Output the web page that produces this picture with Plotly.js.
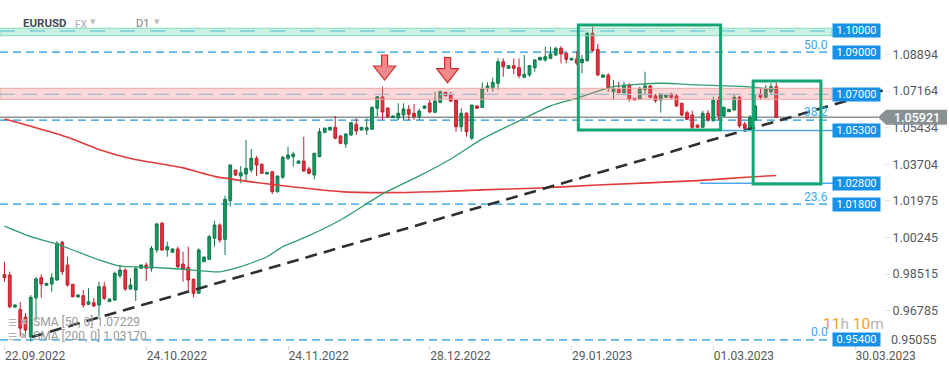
<!DOCTYPE html>
<html>
<head>
<meta charset="utf-8">
<script src="https://cdn.plot.ly/plotly-3.0.1.min.js"></script>
<style>html,body{margin:0;padding:0;background:#fff;}#chart{width:949px;height:370px;}</style>
</head>
<body>
<div id="chart"></div>
<script>
// ---- Candle data (EURUSD D1, bar index 0 = 22.09.2022) ----
const openP = [0.98492,0.98468,0.96956,0.96833,0.96483,0.95537,0.97385,0.98341,0.97981,0.98043,
0.98232,1.00014,0.98941,0.98029,0.97428,0.97490,0.97084,0.97160,0.97050,0.97915,
0.97207,0.97286,0.98435,0.98704,0.97806,0.97759,0.98785,0.98941,0.98785,0.99650,
1.00912,0.99650,0.99541,0.99697,0.98988,0.98832,0.98265,0.97603,0.99097,0.99210,
1.00203,1.00831,1.00155,1.01980,1.03431,1.03147,1.03242,1.03431,1.03984,1.03700,
1.03242,1.03350,1.02405,1.03086,1.03984,1.04060,1.03747,1.03856,1.03478,1.03194,
1.04060,1.05213,1.05321,1.05449,1.05038,1.04660,1.05085,1.05591,1.05321,1.05321,
1.05354,1.06347,1.06881,1.06361,1.05903,1.05889,1.06030,1.06300,1.06111,1.05950,
1.06347,1.06597,1.06158,1.06630,1.07103,1.06975,1.06739,1.05477,1.06111,1.04929,
1.06456,1.06385,1.07292,1.07292,1.07529,1.08549,1.08237,1.08360,1.08266,1.07812,
1.07921,1.08266,1.08630,1.08630,1.08710,1.08866,1.09182,1.08946,1.08630,1.08680,
1.08502,1.08597,1.09891,1.09135,1.07812,1.07921,1.07131,1.07245,1.07084,1.07448,
1.06819,1.06772,1.07245,1.07401,1.06928,1.06739,1.06867,1.07023,1.06928,1.06583,
1.06140,1.06030,1.05557,1.05449,1.06111,1.05761,1.06720,1.05983,1.06186,1.06266,
1.06867,1.05604,1.05321,1.05794,1.07023,1.06867,1.07131,1.07368];
const highP = [0.99106,0.98624,0.97097,0.97192,0.96672,0.97523,0.98374,0.98501,0.98090,0.98548,
1.00075,1.00075,0.99332,0.98043,0.97546,0.97759,0.97839,0.97381,0.98152,0.98152,
0.97357,0.98624,0.98941,0.98785,0.98326,0.98861,0.98964,0.99059,0.99839,1.00941,
1.00988,1.00042,0.99730,0.99806,0.99570,0.99806,0.98312,0.99730,0.99367,1.00359,
1.01034,1.00912,1.02216,1.03700,1.03431,1.03620,1.04849,1.04423,1.04092,1.03747,
1.03336,1.03383,1.03160,1.04092,1.04533,1.04296,1.03880,1.05004,1.03587,1.04240,
1.05402,1.05449,1.05463,1.05983,1.05085,1.05165,1.05700,1.05874,1.05463,1.05874,
1.06423,1.06928,1.07368,1.06395,1.06007,1.06583,1.06583,1.06503,1.06550,1.06337,
1.06480,1.06739,1.07131,1.07178,1.07131,1.07131,1.06772,1.06347,1.06158,1.06520,
1.06480,1.07576,1.07576,1.07793,1.08710,1.08710,1.08370,1.08710,1.08710,1.08866,
1.08393,1.08663,1.08771,1.09258,1.09258,1.09258,1.09291,1.09022,1.08724,1.09050,
1.08866,1.09967,1.10203,1.09386,1.07945,1.08001,1.07684,1.07604,1.07604,1.07529,
1.06833,1.07368,1.08077,1.07448,1.07023,1.07040,1.06990,1.07084,1.07023,1.06611,
1.06234,1.06234,1.05572,1.06234,1.06266,1.06895,1.06900,1.06423,1.06314,1.06975,
1.06928,1.05713,1.06030,1.07023,1.07292,1.07448,1.07529,1.07557];
const lowP = [0.98152,0.96893,0.96908,0.95561,0.95490,0.95318,0.96341,0.97395,0.97948,0.97678,
0.98185,0.98468,0.97915,0.97414,0.97404,0.96924,0.97050,0.96956,0.96497,0.97286,
0.97192,0.97239,0.98312,0.97712,0.97759,0.97239,0.98775,0.98185,0.98624,0.99522,
0.99603,0.99332,0.99508,0.98785,0.98152,0.97759,0.97414,0.97570,0.99083,0.99177,
0.99806,0.99995,0.99413,1.01696,1.03147,1.02802,1.02925,1.03303,1.03147,1.03242,
1.03218,1.02296,1.02358,1.03019,1.03903,1.03587,1.03738,1.03350,1.03228,1.02991,
1.04031,1.05165,1.05297,1.04882,1.04645,1.04485,1.05038,1.05085,1.05297,1.05085,
1.05321,1.05950,1.05794,1.05889,1.05889,1.05794,1.05794,1.05794,1.05794,1.05794,
1.06337,1.06111,1.06111,1.06583,1.06904,1.06630,1.05241,1.05241,1.05004,1.04849,
1.06337,1.06361,1.07131,1.07131,1.07212,1.07840,1.08228,1.07954,1.07765,1.07765,
1.07840,1.08077,1.08606,1.08549,1.08663,1.08818,1.08474,1.08474,1.08606,1.08380,
1.07999,1.08549,1.09022,1.07873,1.07803,1.07131,1.06739,1.07070,1.07023,1.06659,
1.06715,1.06739,1.07023,1.06819,1.06611,1.06140,1.06857,1.06772,1.06423,1.05983,
1.05794,1.05354,1.05439,1.05402,1.05713,1.05713,1.05780,1.05936,1.06172,1.06234,
1.05402,1.05321,1.05274,1.05770,1.06739,1.06819,1.07023,1.05900];
const closeP = [0.98341,0.96968,0.97050,0.95952,0.95868,0.97413,0.98279,0.98043,0.98076,0.98341,
0.99967,0.98624,0.97995,0.97442,0.97523,0.97050,0.97207,0.97003,0.97915,0.97367,
0.97334,0.98548,0.98704,0.97806,0.97995,0.98766,0.98941,0.98785,0.99730,1.00879,
0.99650,0.99806,0.99697,0.98861,0.98737,0.98232,0.97603,0.99650,0.99305,1.00279,
1.00831,1.00122,1.02046,1.03667,1.03194,1.03303,1.03511,1.03984,1.03667,1.03275,
1.03322,1.02405,1.03147,1.04031,1.04140,1.04187,1.03856,1.03383,1.03275,1.04220,
1.05241,1.05402,1.05449,1.04929,1.04693,1.05132,1.05666,1.05274,1.05449,1.05430,
1.06395,1.06895,1.06172,1.05950,1.05983,1.06111,1.06314,1.06063,1.05950,1.06219,
1.06456,1.06172,1.06692,1.07131,1.06942,1.06692,1.05477,1.06111,1.05241,1.06503,
1.06347,1.07292,1.07401,1.07576,1.08549,1.08313,1.08360,1.08237,1.07888,1.07954,
1.08360,1.08630,1.08757,1.08785,1.08913,1.09182,1.08913,1.08663,1.08710,1.08480,
1.08663,1.09891,1.09069,1.07921,1.07921,1.07292,1.07292,1.07084,1.07448,1.06772,
1.06739,1.07292,1.07401,1.06867,1.06706,1.07023,1.06975,1.06867,1.06456,1.06030,
1.05827,1.05449,1.05449,1.06111,1.05794,1.06739,1.06000,1.06395,1.06300,1.06867,
1.05510,1.05402,1.05921,1.06456,1.06867,1.07292,1.07368,1.05921];

// ---- Moving averages ----
const sma50Idx = [0,5,10,13,18,22,28,34,41,45,50,53,57,64,72,79,85,91,98,104,109,116,125,132,141,147];
const sma50Val = [1.0078,1.0028,0.9993,0.9965,0.9918,0.9889,0.9883,0.9874,0.9862,0.9886,0.9933,0.9981,1.0022,1.0107,1.0230,1.0315,1.0395,1.0490,1.0575,1.0646,1.0682,1.0737,1.0753,1.0745,1.0737,1.0723];
const sma200Idx = [0,5,12,18,24,34,40,47,56,64,72,82,91,101,113,132,142,147];
const sma200Val = [1.0584,1.0550,1.0498,1.0440,1.0397,1.0353,1.0313,1.0287,1.0260,1.0241,1.0236,1.0240,1.0249,1.0257,1.0272,1.0293,1.0310,1.0317];

// ---- Drawings ----
const trendIdx = [5.18, 168.04];
const trendPrice = [0.95539, 1.07245];
const fibLevels = ['0.0','23.6','38.2','50.0'];
const fibPrices = [0.9540, 1.0182, 1.0579, 1.0900];
const boxPrices = [1.10000, 1.09000, 1.07000, 1.05300, 1.02800, 1.01800, 0.95400];
const boxTexts = ['1.10000','1.09000','1.07000','1.05300','1.02800','1.01800','0.95400'];
const greenZone = [1.09778, 1.10128];
const redZone = [1.06772, 1.07292];
const supportLines = [1.05300, 1.02800];
const rectIdx = [[109.3, 136.4], [142.6, 155.5]];
const rectPrice = [[1.05321, 1.10284], [1.02769, 1.07637]];
const arrowIdx = [72.4, 84.4];
const arrowPrice = [1.07684, 1.07557];
const currentPrice = 1.05921;
const yTickVals = [1.08894,1.07164,1.05434,1.03704,1.01975,1.00245,0.98515,0.96785];
const yTickText = ['1.08894','1.07164','1.05434','1.03704','1.01975','1.00245','0.98515','0.96785'];
const yBottomLabel = '0.95055';
const xTickVals = [0,27,54,81,108,135,162];
const xTickText = ['22.09.2022','24.10.2022','24.11.2022','28.12.2022','29.01.2023','01.03.2023','30.03.2023'];

const barIdx = openP.map((_, i) => i);

// layout geometry
const PW = 884, PT = 18, PB = 345, PH = PB - PT;
const px = v => v / PW;
const py = v => (PB - v) / PH;

const traces = [
  {
    type: 'candlestick', x: barIdx, open: openP, high: highP, low: lowP, close: closeP,
    increasing: {line: {color: '#0e7a4c', width: 1}, fillcolor: '#179a62'},
    decreasing: {line: {color: '#c41f2e', width: 1}, fillcolor: '#e8303f'},
    whiskerwidth: 0, hoverinfo: 'skip'
  },
  {type: 'scatter', mode: 'lines', x: sma200Idx, y: sma200Val,
   line: {color: '#e23b3b', width: 1.6, shape: 'spline', smoothing: 0.6}, hoverinfo: 'skip'},
  {type: 'scatter', mode: 'lines', x: sma50Idx, y: sma50Val,
   line: {color: '#2e9d6d', width: 1.3, shape: 'spline', smoothing: 0.6}, hoverinfo: 'skip'},
  {type: 'scatter', mode: 'lines', x: trendIdx, y: trendPrice,
   line: {color: '#2b3034', width: 2.6, dash: '12px,7px'}, hoverinfo: 'skip'}
];

const shapes = [];
fibPrices.forEach(p => shapes.push({type: 'line', xref: 'paper', yref: 'y', x0: 0, x1: px(830), y0: p, y1: p,
  line: {color: '#1e9ae0', width: 1.2, dash: '8px,5px'}, layer: 'below'}));
shapes.push({type: 'line', xref: 'paper', yref: 'y', x0: 0, x1: px(878), y0: currentPrice, y1: currentPrice,
  line: {color: '#8d9295', width: 1.5}, layer: 'below'});
shapes.push({type: 'line', xref: 'paper', yref: 'y', x0: px(722), x1: px(833), y0: supportLines[0], y1: supportLines[0],
  line: {color: '#4fa6ec', width: 1.5}, layer: 'above'});
shapes.push({type: 'line', xref: 'paper', yref: 'y', x0: px(700), x1: px(833), y0: supportLines[1], y1: supportLines[1],
  line: {color: '#4fa6ec', width: 1.5}, layer: 'above'});
shapes.push({type: 'rect', xref: 'paper', yref: 'y', x0: 0, x1: px(832), y0: greenZone[0], y1: greenZone[1],
  fillcolor: 'rgba(60,205,150,0.28)', line: {color: '#86dcbc', width: 1}, layer: 'above'});
shapes.push({type: 'line', xref: 'paper', yref: 'y', x0: 0, x1: px(832), y0: boxPrices[0], y1: boxPrices[0],
  line: {color: '#78cde0', width: 1.3, dash: '15px,15px'}, layer: 'above'});
shapes.push({type: 'rect', xref: 'paper', yref: 'y', x0: 0, x1: px(832), y0: redZone[0], y1: redZone[1],
  fillcolor: 'rgba(245,110,110,0.27)', line: {color: '#f3a5a5', width: 1}, layer: 'above'});
shapes.push({type: 'line', xref: 'paper', yref: 'y', x0: 0, x1: px(832), y0: boxPrices[2], y1: boxPrices[2],
  line: {color: '#a6b8cc', width: 1.3, dash: '15px,7px'}, layer: 'above'});
rectIdx.forEach((r, i) => shapes.push({type: 'rect', xref: 'x', yref: 'y', x0: r[0], x1: r[1],
  y0: rectPrice[i][0], y1: rectPrice[i][1], line: {color: '#12a672', width: 3}, fillcolor: 'rgba(0,0,0,0)', layer: 'above'}));
arrowIdx.forEach((a, i) => shapes.push({type: 'path', xref: 'x', yref: 'y', xsizemode: 'pixel', ysizemode: 'pixel',
  xanchor: a, yanchor: arrowPrice[i], path: 'M -3,25 L 3,25 L 3,14 L 11,14 L 0,0 L -11,14 L -3,14 Z',
  fillcolor: '#f08a8a', line: {color: '#d32f2f', width: 1.2}, layer: 'above'}));
shapes.push({type: 'path', xref: 'paper', yref: 'y',
  path: `M ${px(878)},${currentPrice} L ${px(886)},${currentPrice + 0.00355} L ${px(947)},${currentPrice + 0.00355} L ${px(947)},${currentPrice - 0.00355} L ${px(886)},${currentPrice - 0.00355} Z`,
  fillcolor: '#8a9195', line: {width: 0}, layer: 'above'});

const annotations = [];
const F = 'Roboto, sans-serif';
boxPrices.forEach((p, i) => annotations.push({xref: 'paper', yref: 'y', x: px(856.5), y: p, text: boxTexts[i],
  showarrow: false, bgcolor: '#1592e8', width: 47, height: 13, borderpad: 0,
  font: {family: F, size: 11, color: '#ffffff'}, xanchor: 'center', yanchor: 'middle'}));
const fibLabelY = [332, 197, 112, 44.5];
fibLevels.forEach((t, i) => annotations.push({xref: 'paper', yref: 'paper', x: px(829.5), y: py(fibLabelY[i]), text: t,
  showarrow: false, xanchor: 'right', yanchor: 'middle', font: {family: F, size: 12, color: '#3aa9ef'}}));
annotations.push({xref: 'paper', yref: 'y', x: px(916.5), y: currentPrice, text: currentPrice.toFixed(5),
  showarrow: false, xanchor: 'center', yanchor: 'middle', font: {family: F, size: 12.5, color: '#ffffff', weight: 500}});
// bottom axis label (sits at the lower edge)
annotations.push({xref: 'paper', yref: 'paper', x: px(889), y: py(339.5), text: yBottomLabel, showarrow: false,
  xanchor: 'left', yanchor: 'middle', font: {family: F, size: 12.5, color: '#555a5e'}});
// title block
annotations.push({xref: 'paper', yref: 'paper', x: px(20.5), y: py(23), text: '<b>EURUSD</b>', showarrow: false,
  xanchor: 'left', yanchor: 'middle', font: {family: F, size: 11.5, color: '#444c54'}});
annotations.push({xref: 'paper', yref: 'paper', x: px(72.5), y: py(24), text: 'FX', showarrow: false,
  xanchor: 'left', yanchor: 'middle', font: {family: F, size: 10, color: '#a3abb3'}});
annotations.push({xref: 'paper', yref: 'paper', x: px(93), y: py(22), text: '▼', showarrow: false,
  xanchor: 'center', yanchor: 'middle', font: {family: 'DejaVu Sans', size: 7, color: '#b8bec4'}});
annotations.push({xref: 'paper', yref: 'paper', x: px(133.5), y: py(23.5), text: 'D1', showarrow: false,
  xanchor: 'left', yanchor: 'middle', font: {family: F, size: 11, color: '#7a8288'}});
annotations.push({xref: 'paper', yref: 'paper', x: px(157), y: py(22), text: '▼', showarrow: false,
  xanchor: 'center', yanchor: 'middle', font: {family: 'DejaVu Sans', size: 7, color: '#b8bec4'}});
const legendRows = [['SMA [50, 0] 1.07229', 322], ['SMA [200, 0] 1.03170', 336]];
legendRows.forEach(r => {
  annotations.push({xref: 'paper', yref: 'paper', x: px(6), y: py(r[1]), text: '☰', showarrow: false,
    xanchor: 'left', yanchor: 'middle', font: {family: 'DejaVu Sans', size: 10, color: '#b3b3b3'}});
  annotations.push({xref: 'paper', yref: 'paper', x: px(18), y: py(r[1]), text: '✖', showarrow: false,
    xanchor: 'left', yanchor: 'middle', font: {family: 'DejaVu Sans', size: 9, color: '#b3b3b3'}});
  annotations.push({xref: 'paper', yref: 'paper', x: px(31), y: py(r[1]), text: r[0], showarrow: false,
    xanchor: 'left', yanchor: 'middle', font: {family: F, size: 12, color: '#9a9a9a'}});
});
annotations.push({xref: 'paper', yref: 'paper', x: px(853), y: py(324),
  text: '<span style="color:#f5a11c">11</span><span style="color:#b5b5b5">h </span><span style="color:#f5a11c">10</span><span style="color:#b5b5b5">m</span>',
  showarrow: false, xanchor: 'center', yanchor: 'middle', font: {family: F, size: 15.5, color: '#f5a11c'}});

const layout = {
  width: 949, height: 370,
  margin: {l: 0, r: 949 - PW, t: PT, b: 370 - PB, pad: 0},
  paper_bgcolor: '#ffffff', plot_bgcolor: '#ffffff',
  showlegend: false, boxgap: 0.25,
  font: {family: F, size: 12, color: '#555'},
  xaxis: {
    type: 'linear', range: [-0.857, (PW - 4.5) / 5.25], fixedrange: true,
    rangeslider: {visible: false}, showgrid: false, zeroline: false, showline: false,
    tickvals: xTickVals, ticktext: xTickText, ticks: 'outside', ticklen: 4, tickcolor: '#d8d8d8',
    ticklabelposition: 'outside right',
    tickfont: {family: F, size: 12, color: '#555a5e'}
  },
  yaxis: {
    side: 'right', range: [0.95160, 1.10614], fixedrange: true,
    showgrid: false, zeroline: false, showline: false,
    tickvals: yTickVals, ticktext: yTickText, ticks: 'outside', ticklen: 5, tickcolor: '#e2e2e2',
    tickfont: {family: F, size: 12.5, color: '#555a5e'}
  },
  shapes: shapes,
  annotations: annotations
};

Plotly.newPlot('chart', traces, layout, {displayModeBar: false, staticPlot: true});
</script>
</body>
</html>
